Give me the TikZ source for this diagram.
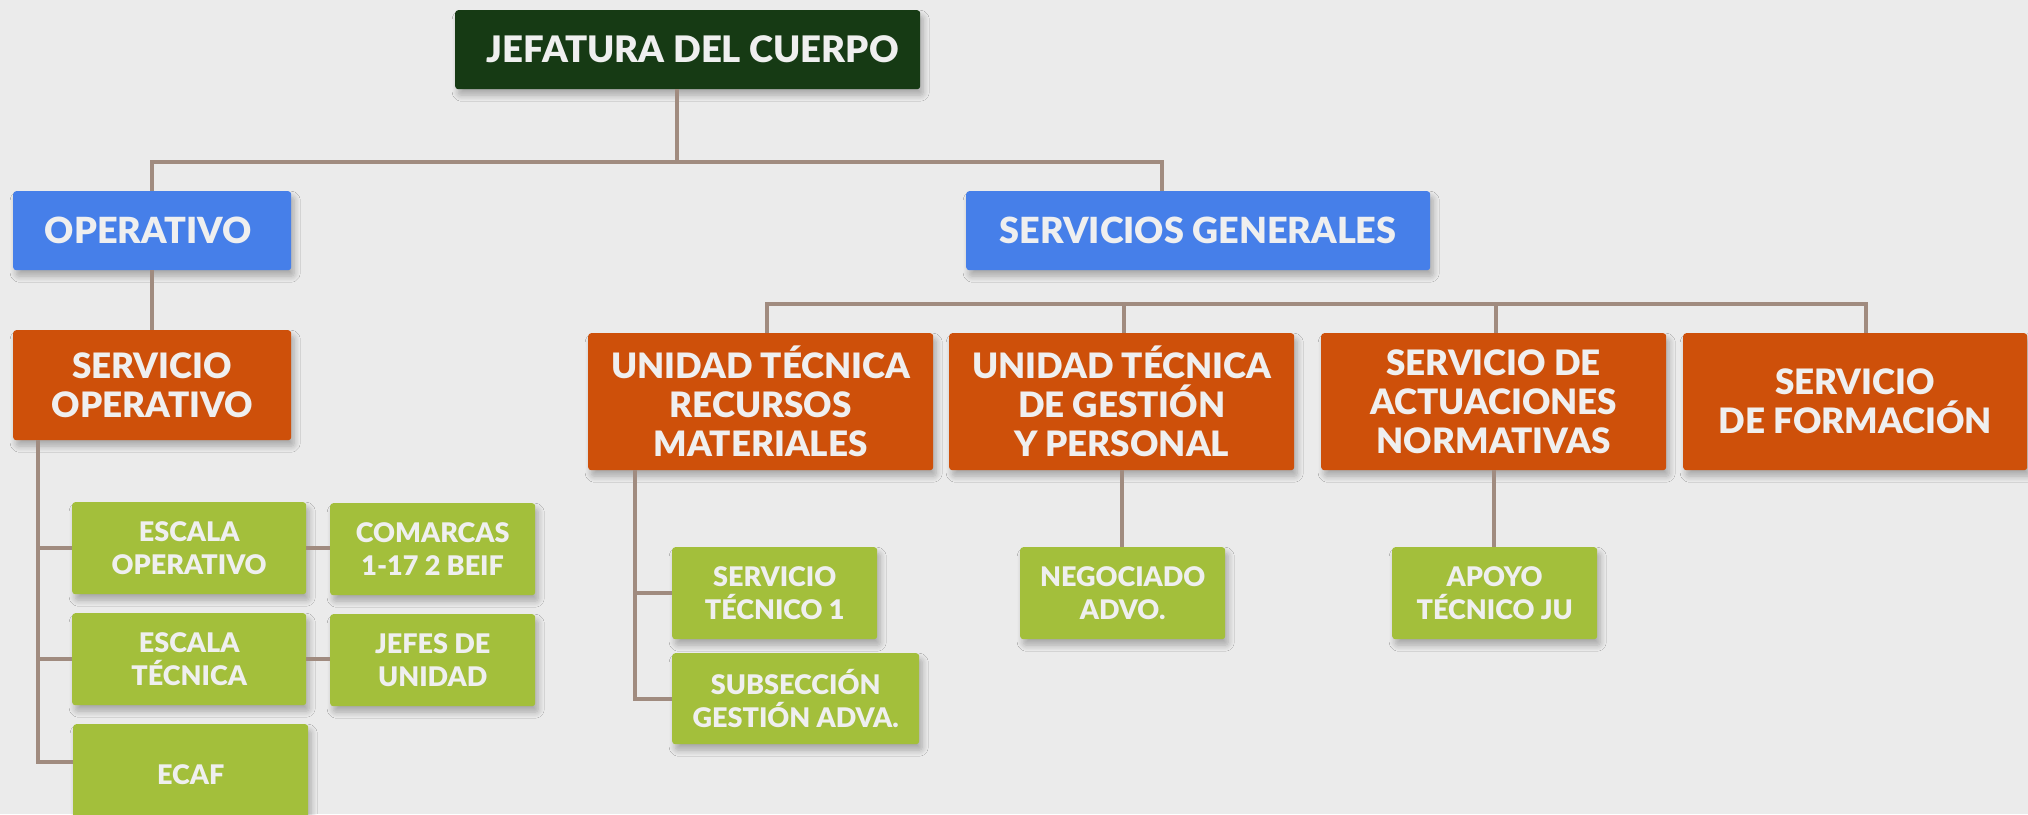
\documentclass[tikz,border=0pt]{standalone}
\usepackage{fontspec}
\setmainfont{Lato}[BoldFont={Lato Black}]
\usetikzlibrary{shadows.blur,calc}
\definecolor{bgc}{HTML}{EBEBEB}
\definecolor{jefc}{HTML}{163A14}
\definecolor{bluec}{HTML}{467FE9}
\definecolor{orac}{HTML}{CE500A}
\definecolor{grnc}{HTML}{A3BF3B}
\definecolor{txtc}{HTML}{EFEFEF}
\definecolor{linec}{HTML}{A08B7F}
\tikzset{
  box/.style={anchor=north west, rounded corners=3pt, inner sep=0pt, align=center,
    text=txtc, font=\bfseries,
    blur shadow={shadow xshift=3pt, shadow yshift=-6pt, shadow blur steps=8, shadow opacity=28, shadow blur radius=6pt}},
  topbox/.style={box, fill=jefc, font=\bfseries\fontsize{36.5}{40}\selectfont},
  bluebox/.style={box, fill=bluec, font=\bfseries\fontsize{36}{40}\selectfont},
  orabox/.style={box, fill=orac, font=\bfseries\fontsize{35}{39}\selectfont},
  grnbox/.style={box, fill=grnc, font=\bfseries\fontsize{27}{33}\selectfont},
  conn/.style={draw=linec, line width=4pt}
}
\begin{document}
\begin{tikzpicture}[x=1pt,y=-1pt]
\fill[bgc] (0,0) rectangle (2028,814);
\useasboundingbox (0,0) rectangle (2028,814);
\coordinate (b1) at (677,162);
\coordinate (sgx) at (1162,0);
\coordinate (b2) at (0,304);
\coordinate (t1) at (38,0);
\coordinate (t2) at (635,0);
\coordinate (ecb) at (0,762);
% nodes
\node[topbox, minimum width=465, minimum height=79] (jef) at (455,10) {\hspace*{10pt}JEFATURA DEL CUERPO};
\node[bluebox, minimum width=278, minimum height=79] (op) at (13,191) {OPERATIVO\hspace*{8pt}};
\node[bluebox, minimum width=464, minimum height=79] (sg) at (966,191) {SERVICIOS GENERALES};
\node[orabox, minimum width=278, minimum height=110] (so) at (13,330) {SERVICIO\\OPERATIVO};
\node[orabox, minimum width=345, minimum height=137] (rm) at (588,333) {UNIDAD TÉCNICA\\RECURSOS\\MATERIALES};
\node[orabox, minimum width=345, minimum height=137] (gp) at (949,333) {UNIDAD TÉCNICA\\DE GESTIÓN\\Y PERSONAL};
\node[orabox, minimum width=345, minimum height=137] (an) at (1321,333) {SERVICIO DE\\ACTUACIONES\\NORMATIVAS};
\node[orabox, minimum width=344, minimum height=137] (fo) at (1683,333) {SERVICIO\\DE FORMACIÓN};
\node[grnbox, minimum width=234, minimum height=92] (eo) at (72,502) {ESCALA\\OPERATIVO};
\node[grnbox, minimum width=205, minimum height=92] (co) at (330,503) {COMARCAS\\1-17 2 BEIF};
\node[grnbox, minimum width=234, minimum height=92] (et) at (72,613) {ESCALA\\TÉCNICA};
\node[grnbox, minimum width=205, minimum height=92] (ju) at (330,614) {JEFES DE\\UNIDAD};
\node[grnbox, minimum width=235, minimum height=100] (ec) at (73,724) {ECAF};
\node[grnbox, minimum width=205, minimum height=92] (st) at (672,547) {SERVICIO\\TÉCNICO 1};
\node[grnbox, minimum width=247, minimum height=91] (sa) at (672,653) {SUBSECCIÓN\\GESTIÓN ADVA.};
\node[grnbox, minimum width=205, minimum height=92] (ne) at (1020,547) {NEGOCIADO\\ADVO.};
\node[grnbox, minimum width=205, minimum height=92] (ap) at (1392,547) {APOYO\\TÉCNICO JU};
% connectors
\draw[conn] (b1 |- jef.south) -- (b1);
\draw[conn] (op.north) |- (b1);
\draw[conn] (b1) -| (sgx |- sg.north);
\draw[conn] (op.south) -- (so.north);
\draw[conn] ([xshift=6pt]rm.north) |- ([xshift=11pt]fo.north |- b2) -- ([xshift=11pt]fo.north);
\draw[conn] ([xshift=2pt]gp.north) -- ([xshift=2pt]gp.north |- b2);
\draw[conn] ([xshift=2pt]an.north) -- ([xshift=2pt]an.north |- b2);
\draw[conn] (t1 |- so.south) |- (ec.west |- ecb);
\draw[conn] (t1 |- eo.west) -- (eo.west);
\draw[conn] (t1 |- et.west) -- (et.west);
\draw[conn] (eo.east) -- (eo.east -| co.west);
\draw[conn] (et.east) -- (et.east -| ju.west);
\draw[conn] (t2 |- rm.south) |- (sa.west);
\draw[conn] (t2 |- st.west) -- (st.west);
\draw[conn] (gp.south) -- (gp.south |- ne.north);
\draw[conn] (an.south) -- (an.south |- ap.north);
\end{tikzpicture}
\end{document}
